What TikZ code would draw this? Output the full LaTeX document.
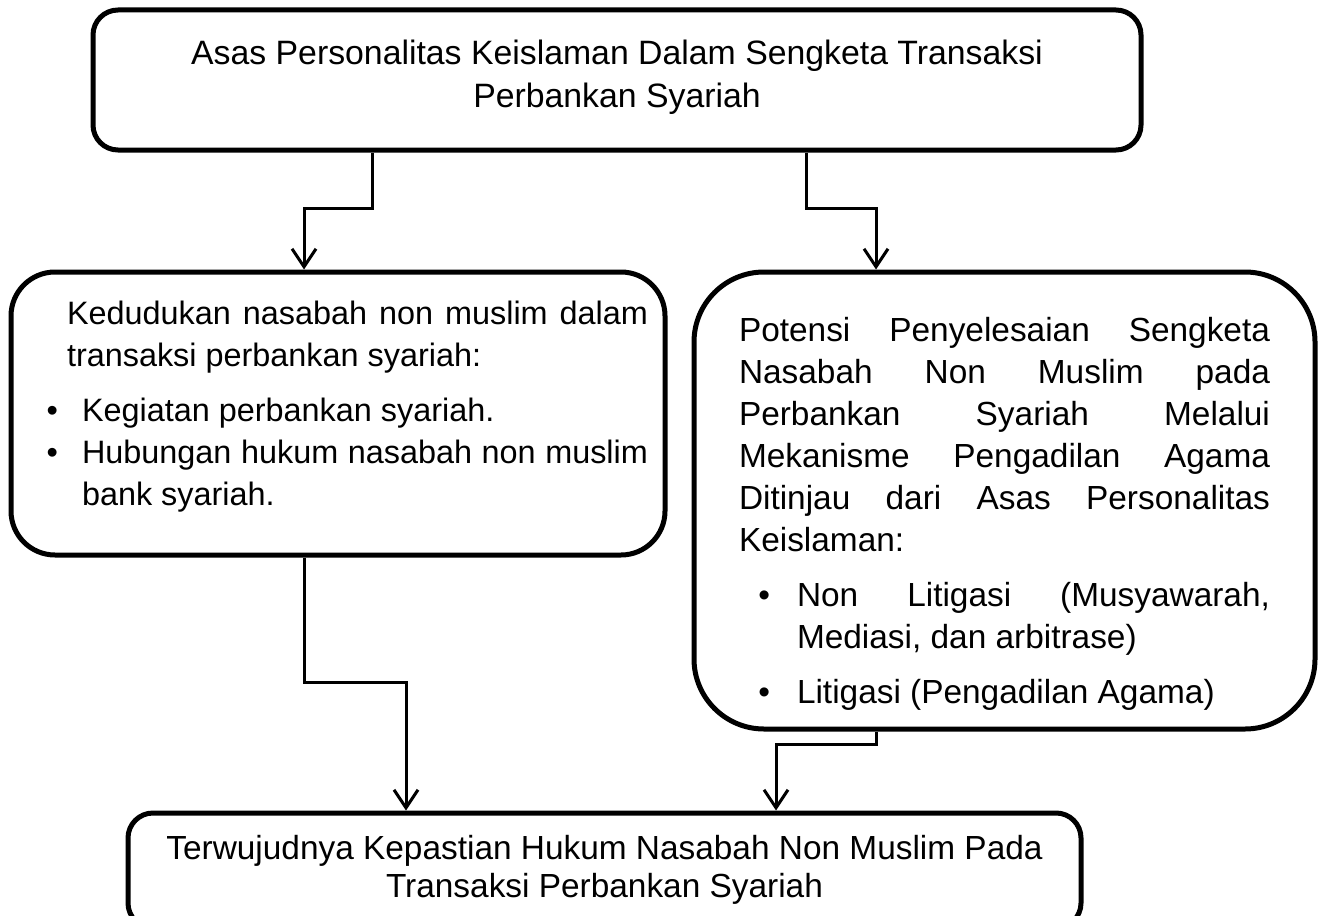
\documentclass[tikz,border=0pt]{standalone}
\usepackage{fontspec}
\setmainfont{Liberation Sans}
\usetikzlibrary{arrows.meta}

\hbadness=10000
\newenvironment{poin}[3]{\begin{list}{\textbullet}{%
  \setlength{\leftmargin}{#1}\setlength{\labelwidth}{8pt}%
  \setlength{\labelsep}{#2}\setlength{\itemsep}{#3}%
  \setlength{\topsep}{6.5pt}\setlength{\partopsep}{0pt}\setlength{\parsep}{0pt}}}%
  {\end{list}}

\begin{document}
\begin{tikzpicture}[x=0.5pt,y=-0.5pt,
  box/.style={draw,line width=2.5pt,inner sep=0pt,font=\fontsize{16.7}{21}\selectfont},
  conn/.style={line width=1.5pt,-{Straight Barb[length=9pt,width=12pt]}}]

\useasboundingbox (0,0) rectangle (1326,915);
\clip (0,0) rectangle (1326,915);

\node[box,rounded corners=12.5pt,minimum width=524pt,minimum height=70pt,
  align=center,font=\fontsize{16.9}{21.5}\selectfont] (asas) at (617,80)
  {Asas Personalitas Keislaman Dalam Sengketa Transaksi\\ Perbankan Syariah\\[-15pt]};

\node[box,rounded corners=22pt,minimum width=327pt,minimum height=141.5pt,
  text width=310pt,align=justify,font=\fontsize{16.2}{21}\selectfont] (kedudukan) at (338,413.5)
  {\leftskip=19.5pt Kedudukan nasabah non muslim dalam\linebreak transaksi perbankan syariah:
  \begin{poin}{27pt}{12pt}{0pt}
  \item Kegiatan perbankan syariah.
  \item Hubungan hukum nasabah non muslim\linebreak bank syariah.
  \end{poin}\vspace{5pt}};

\node[box,rounded corners=35pt,minimum width=310.5pt,minimum height=228.5pt,
  text width=265.5pt,align=justify] (potensi) at (1004.5,500.5)
  {\rule{0pt}{25pt}Potensi Penyelesaian Sengketa\linebreak Nasabah Non Muslim pada\linebreak
  Perbankan Syariah Melalui\linebreak Mekanisme Pengadilan Agama\linebreak
  Ditinjau dari Asas Personalitas\linebreak Keislaman:
  \begin{poin}{29pt}{13.5pt}{6.5pt}
  \item Non Litigasi (Musyawarah,\linebreak Mediasi, dan arbitrase)
  \item Litigasi (Pengadilan Agama)
  \end{poin}};

\node[box,rounded corners=12.5pt,minimum width=476.5pt,minimum height=57.5pt,
  align=center,font=\fontsize{16.7}{19}\selectfont] (kepastian) at (604.5,870.5)
  {Terwujudnya Kepastian Hukum Nasabah Non Muslim Pada\\ Transaksi Perbankan Syariah\\[-15pt]};

\draw[conn] (372,0 |- asas.south) |- (304,208) -- (304,0 |- kedudukan.north);
\draw[conn] (806,0 |- asas.south) |- (876,208) -- (876,0 |- potensi.north);
\draw[conn] (304,0 |- kedudukan.south) |- (406,682) -- (406,0 |- kepastian.north);
\draw[conn] (876,0 |- potensi.south) |- (776,744) -- (776,0 |- kepastian.north);

\end{tikzpicture}
\end{document}
